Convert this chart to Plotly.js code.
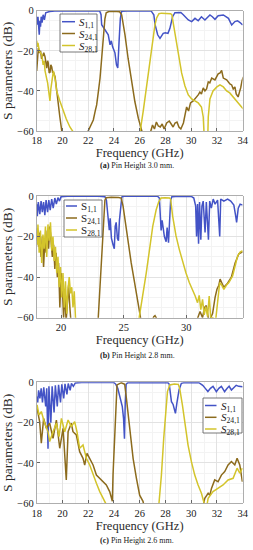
<!DOCTYPE html>
<html>
<head>
<meta charset="utf-8">
<script src="https://cdn.plot.ly/plotly-3.0.1.min.js"></script>
<style>html,body{margin:0;padding:0;background:#fff;}#chart{width:253px;height:550px;}</style>
</head>
<body>
<div id="chart"></div>
<script>
// ---------- DATA (frequency GHz, S-parameter dB) ----------
const subs = ['1,1', '24,1', '28,1'];
const captions = ['Pin Height 3.0 mm.', 'Pin Height 2.8 mm.', 'Pin Height 2.6 mm.'];
const panelLabels = ['(a)', '(b)', '(c)'];
const ticksAC = [18, 20, 22, 24, 26, 28, 30, 32, 34];
const ticksB = [20, 25, 30];
const ticksY = [0, -20, -40, -60];

// Panel (a): pin height 3.0 mm
const aS11 = [[18.0,-3],[18.05,-7],[18.1,-3],[18.15,-9],[18.2,-12],[18.25,-5],[18.3,-8],[18.35,-3],[18.42,-6],[18.5,-2],[18.6,-4.5],[18.7,-1],[18.8,-0.8],[19.0,-0.4],[19.4,-0.2],[20,-0.1],[22,-0.1],[22.9,-0.2],[23.0,-2],[23.05,-7],[23.3,-9.6],[23.56,-12],[23.7,-17],[23.8,-15],[23.9,-18],[24.0,-20],[24.08,-21],[24.2,-27],[24.3,-28.6],[24.4,-15.5],[24.5,-3.8],[24.6,-0.3],[25,-0.1],[26.9,-0.2],[27.1,-2],[27.2,-7],[27.4,-12],[27.58,-13.8],[27.7,-12.5],[27.83,-11.3],[28.0,-11],[28.2,-11.3],[28.35,-8.8],[28.56,-3],[28.74,-1],[29.0,-0.8],[29.2,-0.9],[29.39,-2],[29.6,-3.5],[29.78,-4.6],[30.04,-5.4],[30.3,-3.8],[30.55,-5],[30.8,-3],[31.07,-4.6],[31.25,-3.5],[31.46,-2.1],[31.65,-3],[31.85,-4.3],[32.1,-2.5],[32.5,-2.1],[32.9,-3.8],[33.15,-7.1],[33.4,-5.4],[33.6,-5],[33.8,-5.9],[34.0,-7.1]];
const aS24 = [[18.0,-30],[18.07,-22],[18.13,-18.5],[18.2,-21],[18.3,-20],[18.38,-24],[18.47,-22],[18.55,-21],[18.65,-23],[18.72,-27],[18.78,-28.7],[18.85,-25],[18.9,-26],[18.97,-31],[19.04,-30.6],[19.1,-27],[19.17,-28],[19.24,-31],[19.3,-30.5],[19.43,-33],[19.55,-40.4],[19.68,-47],[19.8,-53],[19.94,-59.6],[20.0,-63],[21.0,-70],[21.9,-63],[22.0,-60],[22.2,-57],[22.4,-54.5],[22.55,-50],[22.66,-47],[22.8,-40],[22.92,-33.7],[23.05,-23.7],[23.18,-14],[23.3,-4],[23.4,-1],[23.6,-0.4],[24.0,-0.3],[24.45,-0.5],[24.6,-2],[24.86,-12],[25.1,-23.7],[25.38,-35.4],[25.63,-45.4],[25.9,-53.7],[26.15,-58.7],[26.3,-63],[26.6,-66],[26.9,-60],[27.0,-57],[27.15,-59],[27.3,-55.5],[27.45,-57.5],[27.6,-58],[27.75,-56.5],[27.9,-59],[28.1,-56],[28.3,-55],[28.45,-56.5],[28.6,-58],[28.75,-56],[28.9,-55.5],[29.05,-58],[29.2,-59],[29.4,-56],[29.55,-52],[29.65,-48],[29.8,-50],[29.95,-46],[30.16,-45],[30.3,-44],[30.43,-43],[30.55,-42],[30.68,-40.6],[30.8,-41.5],[30.94,-38.5],[31.07,-40],[31.2,-39],[31.33,-35.5],[31.45,-36],[31.6,-33.6],[31.85,-34.5],[32.1,-31.5],[32.25,-31],[32.37,-29.8],[32.5,-33.6],[32.76,-34.5],[33.01,-36.5],[33.15,-37],[33.27,-39],[33.4,-38],[33.5,-41.5],[33.65,-43],[33.78,-40],[33.85,-38.5],[33.95,-35],[34.05,-33]];
const aS28 = [[18.0,-15],[18.05,-18],[18.1,-16],[18.2,-20],[18.3,-21],[18.4,-22],[18.5,-27],[18.58,-25],[18.65,-30],[18.72,-33],[18.78,-34],[18.85,-36],[18.9,-38],[18.97,-42],[19.03,-45],[19.1,-39],[19.17,-35],[19.3,-30],[19.43,-34],[19.55,-40],[19.8,-45],[20.07,-50],[20.3,-54],[20.58,-58],[20.84,-60],[21.0,-62],[21.5,-70],[25.5,-70],[25.9,-64],[26.02,-61],[26.28,-50],[26.54,-37],[26.8,-24],[27.06,-13.7],[27.19,-7],[27.32,-3.6],[27.5,-1.5],[27.7,-1.2],[28.0,-1.2],[28.3,-1.3],[28.4,-1.5],[28.5,-2],[28.74,-11.4],[29.0,-21.5],[29.26,-31],[29.52,-37.5],[29.78,-42],[30.04,-44],[30.3,-45],[30.55,-46],[30.8,-48],[30.94,-53],[31.0,-61],[31.15,-66],[31.3,-61],[31.33,-53],[31.46,-44],[31.7,-40],[32.0,-38],[32.24,-37],[32.5,-38],[32.76,-40],[33.0,-41],[33.27,-43],[33.52,-44.5],[33.78,-46.5],[34.05,-49]];

// Panel (b): pin height 2.8 mm
const bS11 = [[18.05,-4],[18.1,-10],[18.18,-3],[18.3,-9],[18.4,-2.5],[18.5,-8],[18.6,-3],[18.7,-9.5],[18.8,-2],[18.92,-8],[19.02,-2],[19.13,-7],[19.25,-1.5],[19.37,-6],[19.5,-1],[19.62,-4],[19.75,-0.8],[19.87,-2.5],[20.0,-0.3],[20.5,-0.1],[23.0,-0.1],[23.5,-0.3],[23.62,-2],[23.75,-12],[23.85,-16.8],[23.92,-11],[24.02,-20.8],[24.15,-24],[24.25,-26],[24.32,-15],[24.4,-13],[24.5,-21],[24.58,-22],[24.66,-12],[24.76,-4],[24.85,-0.5],[25.0,-0.1],[27.7,-0.1],[27.85,-1],[27.91,-11],[27.99,-17],[28.07,-12],[28.16,-16],[28.25,-20],[28.39,-22.5],[28.47,-15.5],[28.58,-23],[28.66,-15],[28.75,-2],[28.85,-0.3],[29.5,-0.1],[30.4,-0.2],[30.6,-1],[30.75,-5],[30.82,-20],[30.9,-4],[30.98,-23.5],[31.06,-3],[31.16,-21.5],[31.25,-5],[31.35,-2.5],[31.5,-18],[31.6,-3],[31.77,-21.5],[31.87,-2.5],[32.0,-6],[32.15,-1.5],[32.3,-4],[32.5,-2],[32.67,-20],[32.75,-1.5],[33.0,-2.5],[33.3,-1.5],[33.55,-2.5],[33.8,-4.5],[33.95,-10],[34.02,-13],[34.15,-6],[34.3,-4],[34.5,-4.5]];
const bS24 = [[18.05,-22],[18.1,-16],[18.2,-25],[18.3,-18],[18.4,-30],[18.5,-20],[18.6,-35],[18.7,-22],[18.8,-28],[18.9,-17],[19.0,-26],[19.1,-15],[19.2,-22],[19.3,-30],[19.4,-24],[19.5,-36],[19.6,-28],[19.7,-40],[19.8,-33],[19.9,-55],[20.0,-38],[20.1,-45],[20.2,-60],[20.3,-47],[20.4,-62],[20.5,-50],[20.6,-44],[20.7,-55],[20.8,-63],[21.5,-70],[22.8,-70],[22.95,-62],[23.1,-45],[23.2,-32],[23.3,-19],[23.4,-8],[23.5,-2],[23.6,-0.8],[24.0,-0.6],[24.6,-0.7],[24.8,-1],[24.95,-5],[25.1,-12],[25.35,-23],[25.6,-33],[25.85,-42],[26.1,-51],[26.3,-59],[26.4,-62],[26.8,-70],[27.3,-62],[27.4,-59.5],[27.5,-59],[27.6,-60],[27.7,-63],[28.5,-70],[30.7,-66],[30.8,-62],[31.1,-57],[31.3,-60],[31.45,-55],[31.6,-54],[31.8,-62],[32.1,-58],[32.3,-50],[32.45,-46],[32.6,-44],[32.7,-41],[32.85,-43],[33.0,-45],[33.3,-43],[33.6,-40],[33.9,-33],[34.2,-28.5],[34.5,-27.5]];
const bS28 = [[18.05,-16],[18.1,-24],[18.15,-14],[18.25,-28],[18.35,-17],[18.45,-33],[18.55,-19],[18.65,-26],[18.75,-15],[18.85,-30],[18.95,-14],[19.05,-22],[19.15,-13],[19.25,-27],[19.35,-20],[19.45,-32],[19.55,-25],[19.65,-38],[19.75,-30],[19.85,-45],[19.95,-35],[20.05,-50],[20.15,-38],[20.25,-55],[20.35,-42],[20.45,-58],[20.55,-46],[20.65,-40],[20.75,-48],[20.85,-45],[20.95,-55],[21.05,-47],[21.15,-60],[21.25,-66],[22,-70],[25.8,-70],[26.21,-61],[26.53,-49.6],[26.8,-38],[27.06,-26.6],[27.32,-15],[27.59,-6.9],[27.8,-2.8],[27.98,-1],[28.3,-0.8],[28.66,-1],[28.75,-1.6],[28.91,-9.9],[29.18,-19.7],[29.44,-26.3],[29.71,-32.9],[29.97,-37.8],[30.24,-42.7],[30.5,-46],[30.71,-49.3],[30.9,-52.6],[31.03,-49],[31.16,-56],[31.3,-51],[31.43,-58.6],[31.56,-54.5],[31.7,-59.5],[31.83,-49.3],[31.96,-61],[32.1,-60],[32.35,-61],[32.5,-52],[32.56,-46],[32.67,-42.7],[32.83,-44],[33.0,-46],[33.2,-44],[33.4,-42.7],[33.7,-39.4],[33.9,-34.5],[34.1,-29.6],[34.3,-27.6],[34.5,-27]];

// Panel (c): pin height 2.6 mm
const cS11 = [[18.0,-7],[18.08,-10],[18.15,-4],[18.25,-8],[18.35,-3],[18.45,-10],[18.55,-2.5],[18.7,-12],[18.78,-3],[18.88,-33],[18.95,-2],[19.1,-20],[19.2,-2],[19.35,-15],[19.45,-1.5],[19.6,-12],[19.7,-1.2],[19.85,-10],[19.95,-1],[20.1,-8],[20.2,-0.8],[20.35,-6],[20.45,-0.6],[20.6,-4],[20.7,-0.5],[20.85,-2],[21.0,-0.3],[21.5,-0.1],[24.0,-0.1],[24.15,-1],[24.3,-3],[24.5,-8],[24.65,-12],[24.75,-18],[24.82,-28],[24.88,-10],[24.95,-1],[25.1,-0.1],[28.2,-0.2],[28.3,-1],[28.47,-9.6],[28.6,-11],[28.65,-12],[28.78,-15.4],[28.9,-10],[29.06,-3.8],[29.24,-0.5],[29.5,-0.1],[30.6,-0.2],[30.9,-1.5],[31.1,-3],[31.3,-4.6],[31.5,-3],[31.7,-2],[31.96,-4.6],[32.15,-3],[32.35,-2],[32.6,-4.6],[32.8,-3],[32.95,-2],[33.13,-3.8],[33.3,-2.5],[33.5,-1.5],[33.7,-2],[34.0,-2.2]];
const cS24 = [[18.03,-12.9],[18.23,-19.5],[18.36,-30.2],[18.54,-17.9],[18.75,-22.8],[19.01,-20.3],[19.27,-27.8],[19.53,-18.7],[19.79,-32.7],[20.05,-22.8],[20.3,-48.4],[20.44,-24.5],[20.69,-20.3],[20.82,-24.5],[21.08,-26.1],[21.34,-34.4],[21.6,-37.7],[21.73,-41],[21.91,-35.2],[22.12,-37.7],[22.38,-41],[22.64,-46],[22.9,-47.6],[23.41,-50.9],[23.67,-54.2],[23.8,-57.5],[23.88,-59],[23.93,-46],[24.06,-24.5],[24.17,-8],[24.24,-1.3],[24.58,-0.2],[24.84,-1],[24.97,-8],[25.23,-24.5],[25.49,-37.7],[25.75,-47.6],[26.0,-56],[26.26,-59],[26.4,-63],[27,-70],[30.5,-70],[30.9,-62],[31.06,-57.5],[31.32,-55],[31.45,-56],[31.58,-52.6],[31.83,-48.4],[32.09,-49.3],[32.35,-46],[32.61,-44.3],[32.87,-41],[33.13,-39.3],[33.39,-41],[33.57,-37.7],[33.78,-41],[33.98,-49.3]];
const cS28 = [[18.03,-11.2],[18.18,-16.2],[18.36,-14.5],[18.62,-20.3],[18.88,-24.5],[19.01,-29.4],[19.27,-24.5],[19.53,-20.3],[19.74,-26.9],[19.92,-17.9],[20.18,-24.5],[20.44,-18.7],[20.69,-22],[20.95,-19.5],[21.13,-24.5],[21.34,-32.7],[21.6,-31.1],[21.86,-37.7],[22.12,-41],[22.38,-46],[22.64,-50.1],[22.9,-54.2],[23.16,-57.5],[23.36,-60],[23.5,-64],[24,-70],[27,-70],[27.4,-63],[27.5,-60],[27.69,-46],[27.87,-27.8],[28.03,-12.9],[28.16,-4.6],[28.34,-1.3],[28.7,-0.8],[29.0,-1],[29.11,-3],[29.32,-11.2],[29.53,-21.2],[29.76,-31.1],[30.02,-39.3],[30.28,-46],[30.54,-50.9],[30.8,-55],[30.98,-59.2],[31.1,-63],[31.2,-62],[31.32,-57.5],[31.7,-54.2],[32.09,-52.6],[32.48,-50.9],[32.87,-48.4],[33.26,-47.6],[33.57,-42.6],[33.78,-45],[33.98,-42.6]];

// ---------- STYLE ----------
const colors = ['#4353c6', '#8c6b1d', '#d3c42b'];
const serif = 'Liberation Serif, DejaVu Serif, serif';
const W = 253, H = 550;
const xDomain = [0.145, 0.959];
const yDomains = [[0.7618, 0.9805], [0.4224, 0.6436], [0.0849, 0.3049]];
// legend boxes in pixels: left, top, right, bottom, row centres, line start/end, text x
const legendBoxes = [
  {l: 60, t: 14, r: 97, b: 52, rows: [21.7, 33.5, 45.5], x0: 62, x1: 75, tx: 76.5},
  {l: 64, t: 200, r: 102, b: 237, rows: [206, 218, 230], x0: 66, x1: 77, tx: 79},
  {l: 203, t: 398, r: 242, b: 433, rows: [405.5, 417.3, 429], x0: 205, x1: 216.5, tx: 218.5}
];
const panels = [
  {data: [aS11, aS24, aS28], range: [18, 34], ticks: ticksAC, italic: true, capY: 165.3},
  {data: [bS11, bS24, bS28], range: [18.05, 34.5], ticks: ticksB, italic: false, capY: 355.3},
  {data: [cS11, cS24, cS28], range: [18, 34], ticks: ticksAC, italic: true, capY: 540.3}
];

const px = v => v / W;
const py = v => 1 - v / H;

const traces = [];
const layout = {
  width: W, height: H,
  margin: {l: 0, r: 0, t: 0, b: 0},
  paper_bgcolor: '#fff', plot_bgcolor: '#fff',
  font: {family: serif, color: '#222'},
  showlegend: false,
  annotations: [], shapes: []
};

panels.forEach((p, i) => {
  const sfx = i === 0 ? '' : String(i + 1);
  const lb = legendBoxes[i];
  layout.shapes.push({type: 'rect', xref: 'paper', yref: 'paper', layer: 'above',
    x0: px(lb.l), x1: px(lb.r), y0: py(lb.b), y1: py(lb.t),
    fillcolor: '#fff', line: {color: '#555', width: 0.8}});
  p.data.forEach((series, k) => {
    const sym = p.italic ? '<i>S</i>' : 'S';
    const label = sym + '<sub>' + subs[k] + '</sub>';
    traces.push({
      type: 'scatter', mode: 'lines',
      x: series.map(d => d[0]), y: series.map(d => d[1]),
      xaxis: 'x' + sfx, yaxis: 'y' + sfx,
      name: label,
      line: {color: colors[k], width: 1.5},
      hoverinfo: 'skip'
    });
    layout.shapes.push({type: 'line', xref: 'paper', yref: 'paper', layer: 'above',
      x0: px(lb.x0), x1: px(lb.x1), y0: py(lb.rows[k]), y1: py(lb.rows[k]),
      line: {color: colors[k], width: 1.5}});
    layout.annotations.push({xref: 'paper', yref: 'paper', x: px(lb.tx), y: py(lb.rows[k] + 1),
      xanchor: 'left', yanchor: 'middle', showarrow: false, text: label,
      font: {family: serif, size: 11, color: '#222'}});
  });
  layout['xaxis' + sfx] = {
    domain: xDomain, anchor: 'y' + sfx, range: p.range,
    tickmode: 'array', tickvals: p.ticks,
    showline: true, mirror: true, linecolor: '#9a9a9a', linewidth: 0.8,
    ticks: 'inside', ticklen: 3, tickcolor: '#666',
    showgrid: true, gridcolor: '#e2e2e2', zeroline: false,
    minor: {dtick: 1, showgrid: true, gridcolor: '#f3f3f3', ticks: ''},
    tickfont: {family: serif, size: 10.5, color: '#222'},
    title: {text: 'Frequency (GHz)', font: {family: serif, size: 12.5, color: '#2a2a2a'}, standoff: 0}
  };
  layout['yaxis' + sfx] = {
    domain: yDomains[i], anchor: 'x' + sfx, range: [-60, 0],
    tickmode: 'array', tickvals: ticksY,
    showline: true, mirror: true, linecolor: '#9a9a9a', linewidth: 0.8,
    ticks: 'inside', ticklen: 3, tickcolor: '#666',
    showgrid: true, gridcolor: '#e2e2e2', zeroline: false,
    minor: {dtick: 5, showgrid: true, gridcolor: '#f3f3f3', ticks: ''},
    tickfont: {family: serif, size: 10.5, color: '#222'},
    title: {text: 'S parameters (dB)', font: {family: serif, size: 13.5, color: '#2a2a2a'}, standoff: 2}
  };
  layout.annotations.push({
    xref: 'paper', yref: 'paper', x: px(137), y: py(p.capY), xanchor: 'center', yanchor: 'middle',
    showarrow: false, text: '<b>' + panelLabels[i] + '</b> ' + captions[i],
    font: {family: serif, size: 8, color: '#222'}
  });
});

Plotly.newPlot('chart', traces, layout, {staticPlot: true, displayModeBar: false});
</script>
</body>
</html>
